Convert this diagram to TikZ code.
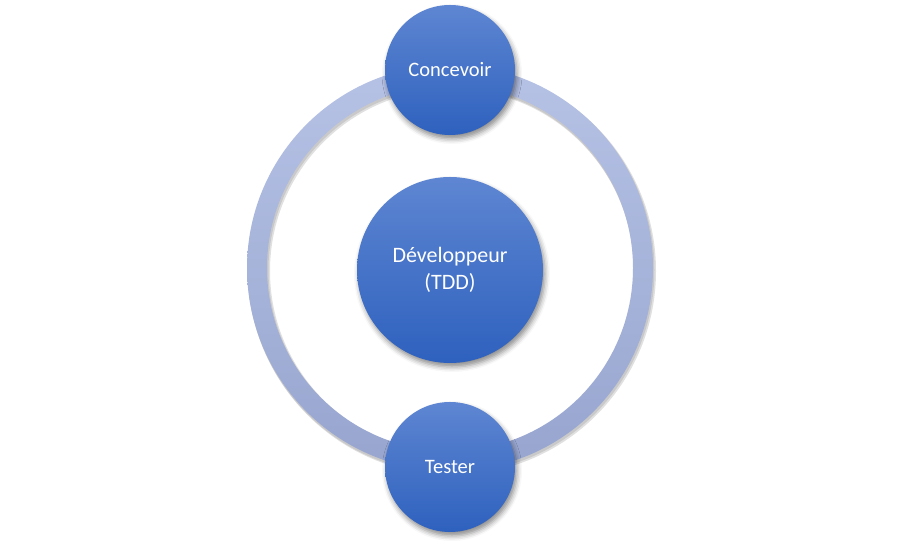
\documentclass[tikz,border=0pt]{standalone}
\usepackage{fontspec}
\setmainfont{Carlito}
\usetikzlibrary{shadows.blur}
\definecolor{ringtop}{HTML}{B6C2E5}
\definecolor{ringbot}{HTML}{97A5CF}
\definecolor{balltop}{HTML}{5E86D2}
\definecolor{ballbot}{HTML}{2E61BE}
\tikzset{
  ball/.style={circle, inner sep=0pt, top color=balltop, bottom color=ballbot,
    draw=none, text=white, align=center,
    blur shadow={shadow xshift=2pt, shadow yshift=-4pt, shadow blur radius=5pt, shadow opacity=45}},
  smallball/.style={ball, minimum size=130pt, font=\fontsize{20.5pt}{24pt}\selectfont},
  bigball/.style={ball, minimum size=186pt, font=\fontsize{22pt}{26.5pt}\selectfont}
}
\begin{document}
\begin{tikzpicture}[x=1pt,y=1pt]
\useasboundingbox (0,0) rectangle (900,545);
\coordinate (c) at (450,277);
% ring shadow
\fill[black, opacity=0.12, even odd rule] ([xshift=2pt,yshift=-3pt]c) circle (204) ([xshift=2pt,yshift=-3pt]c) circle (182);
\fill[black, opacity=0.10, even odd rule] ([xshift=1pt,yshift=-2pt]c) circle (203.5) ([xshift=1pt,yshift=-2pt]c) circle (182.5);
% ring
\shade[top color=ringtop, bottom color=ringbot, even odd rule] (c) circle (203) (c) circle (183);
% circles
\node[bigball] (dev) at (450,275) {Développeur\\(TDD)};
\node[smallball] (conc) at (450,475) {Concevoir};
\node[smallball] (test) at (450,78) {Tester};
\end{tikzpicture}
\end{document}
